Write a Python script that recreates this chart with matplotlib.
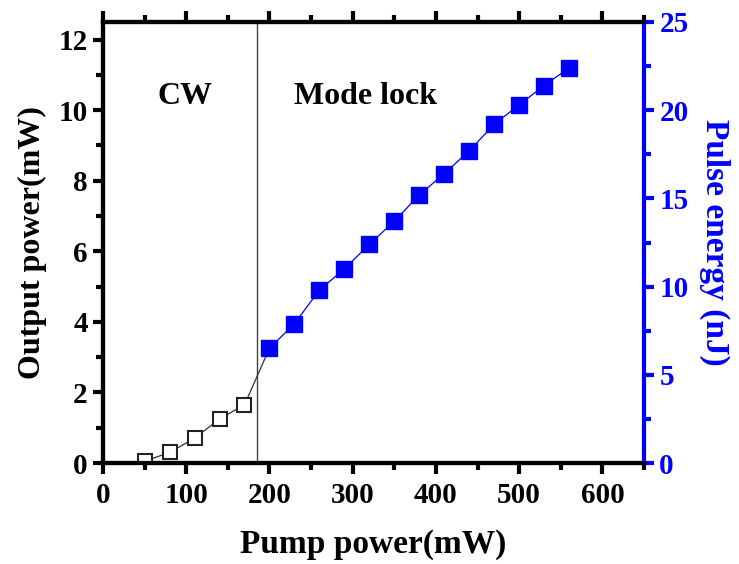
import matplotlib
matplotlib.use("Agg")
import matplotlib.pyplot as plt
from matplotlib.ticker import MultipleLocator

# ---- data ----
cw_pump = [50, 80, 110, 140, 170]
cw_power = [0.05, 0.3, 0.7, 1.25, 1.65]

ml_pump = [200, 230, 260, 290, 320, 350, 380, 410, 440, 470, 500, 530, 560]
ml_power = [3.25, 3.95, 4.9, 5.5, 6.2, 6.85, 7.6, 8.2, 8.85, 9.6, 10.15, 10.7, 11.2]
ml_energy = [6.5, 7.9, 9.8, 11.0, 12.4, 13.7, 15.2, 16.4, 17.7, 19.2, 20.3, 21.4, 22.4]

threshold = 185
x_label = "Pump power(mW)"
y_label = "Output power(mW)"
y2_label = "Pulse energy (nJ)"
region_labels = ["CW", "Mode lock"]

plt.rcParams['font.family'] = ['Liberation Serif', 'DejaVu Serif']
plt.rcParams['font.weight'] = 'bold'

fig = plt.figure(figsize=(7.39, 5.64), dpi=100)
ax = fig.add_axes([103/739, 1-463/564, (644-103)/739, (463-22)/564])
ax2 = ax.twinx()

blue = '#0000ff'

# CW series + connection to first mode-lock point
ax.plot(cw_pump + ml_pump[:1], cw_power + ml_power[:1], color='#333333', lw=0.9, zorder=2)
ax.plot(cw_pump, cw_power, ls='none', marker='s', ms=10.5, mfc='white', mec='#222222', mew=1.5, zorder=3)

# mode-lock series on right axis
ax2.plot(ml_pump, ml_energy, color=blue, lw=0.9, marker='s', ms=11, mfc=blue, mec=blue, zorder=3)

ax.axvline(threshold, color='#444444', lw=1.0, zorder=1)

ax.set_xlim(0, 650)
ax.set_ylim(0, 12.5)
ax2.set_ylim(0, 25)

ax.xaxis.set_major_locator(MultipleLocator(100))
ax.xaxis.set_minor_locator(MultipleLocator(50))
ax.yaxis.set_major_locator(MultipleLocator(2))
ax.yaxis.set_minor_locator(MultipleLocator(1))
ax2.yaxis.set_major_locator(MultipleLocator(5))
ax2.yaxis.set_minor_locator(MultipleLocator(2.5))

for s in ['left', 'bottom', 'top']:
    ax.spines[s].set_linewidth(3)
    ax2.spines[s].set_linewidth(3)
ax.spines['right'].set_visible(False)
ax2.spines['right'].set_linewidth(3)
ax2.spines['right'].set_color(blue)

ax.tick_params(axis='x', which='major', direction='out', length=8, width=3, labelsize=21, pad=6, top=True)
ax.tick_params(axis='x', which='minor', direction='out', length=5, width=3, top=True)
ax.tick_params(axis='y', which='major', direction='out', length=7, width=3, labelsize=21, pad=4)
ax.tick_params(axis='y', which='minor', direction='out', length=5, width=3)
ax2.tick_params(axis='y', which='major', direction='out', length=7, width=3, labelsize=21,
                colors=blue, pad=4)
ax2.tick_params(axis='y', which='minor', direction='out', length=5, width=3, colors=blue)

for lbl in ax.get_xticklabels() + ax.get_yticklabels() + ax2.get_yticklabels():
    lbl.set_fontweight('bold')

ax.set_xlabel(x_label, fontsize=24, fontweight='bold', labelpad=14)
ax.set_ylabel(y_label, fontsize=23, fontweight='bold', labelpad=8)
ax2.set_ylabel(y2_label, fontsize=24, fontweight='bold', color=blue, rotation=270, labelpad=30)

ax.text(99, 10.4, region_labels[0], fontsize=23, fontweight='bold', ha='center', va='center')
ax.text(316, 10.4, region_labels[1], fontsize=23, fontweight='bold', ha='center', va='center')

fig.savefig('out.png', dpi=100)
